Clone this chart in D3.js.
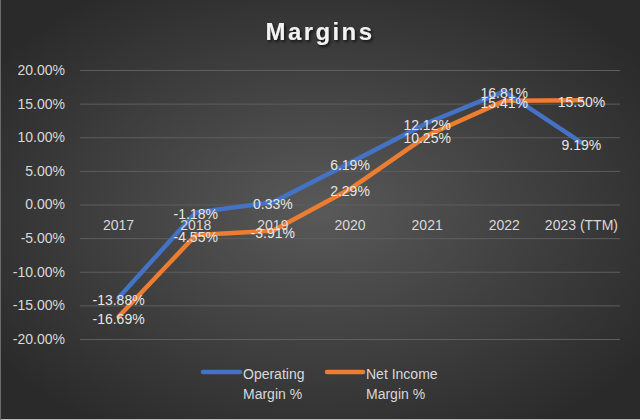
<!DOCTYPE html>
<html>
<head>
<meta charset="utf-8">
<script src="https://cdn.jsdelivr.net/npm/d3@7"></script>
<style>
  html, body { margin: 0; padding: 0; background: #333; }
  svg { display: block; }
  text { font-family: "Liberation Sans", Arial, sans-serif; }
</style>
</head>
<body>
<svg id="chart" width="640" height="420"></svg>
<script>
const categories = ["2017", "2018", "2019", "2020", "2021", "2022", "2023 (TTM)"];
const operatingMargin = [-13.88, -1.18, 0.33, 6.19, 12.12, 16.81, 9.19];
const netIncomeMargin = [-16.69, -4.55, -3.91, 2.29, 10.25, 15.41, 15.50];
const yTicks = [-20, -15, -10, -5, 0, 5, 10, 15, 20];
const seriesNames = ["Operating Margin %", "Net Income Margin %"];
const seriesColors = ["#4472C4", "#ED7D31"];

const W = 640, H = 420;
const svg = d3.select("#chart");
const defs = svg.append("defs");

const grad = defs.append("radialGradient").attr("id", "bg")
  .attr("cx", "50%").attr("cy", "50%").attr("r", "62%");
grad.append("stop").attr("offset", "0%").attr("stop-color", "#595959");
grad.append("stop").attr("offset", "100%").attr("stop-color", "#2a2a2a");

const shadow = defs.append("filter").attr("id", "shadow")
  .attr("x", "-20%").attr("y", "-40%").attr("width", "140%").attr("height", "180%");
shadow.append("feDropShadow").attr("dx", 1.5).attr("dy", 2).attr("stdDeviation", 1.5)
  .attr("flood-color", "#000").attr("flood-opacity", 0.7);

svg.append("rect").attr("width", W).attr("height", H).attr("fill", "url(#bg)");
svg.append("line").attr("x1", 0).attr("x2", W).attr("y1", H - 0.5).attr("y2", H - 0.5)
  .attr("stroke", "#bfbfbf").attr("stroke-width", 1);
svg.append("line").attr("x1", 0.5).attr("x2", 0.5).attr("y1", 0).attr("y2", H)
  .attr("stroke", "#6a6a6a").attr("stroke-width", 1);

// Title
svg.append("text").attr("x", 320).attr("y", 40).attr("text-anchor", "middle")
  .attr("font-size", 24).attr("font-weight", "bold").attr("letter-spacing", 2.4)
  .attr("fill", "#f2f2f2").attr("filter", "url(#shadow)").text("Margins");

const x = d3.scaleBand().domain(categories).range([80, 620]).padding(0);
const y = d3.scaleLinear().domain([-20, 20]).range([339, 70]);
const cx = c => x(c) + x.bandwidth() / 2;

// Gridlines
const grid = svg.append("g").attr("transform", "translate(80,0)")
  .call(d3.axisLeft(y).tickValues(yTicks).tickSize(-540).tickFormat(""));
grid.select(".domain").remove();
grid.selectAll("line").attr("stroke", "#5e5e5e").attr("stroke-width", 1);

// Y axis labels
const yAxis = svg.append("g").attr("transform", "translate(80,0)")
  .call(d3.axisLeft(y).tickValues(yTicks).tickSize(0).tickPadding(15)
    .tickFormat(d => d.toFixed(2) + "%"));
yAxis.select(".domain").remove();
yAxis.selectAll("text").attr("font-size", 14).attr("fill", "#d9d9d9")
  .attr("font-family", "Liberation Sans, Arial, sans-serif");

// Lines
const line = d3.line().x(d => cx(d.c)).y(d => y(d.v));
const seriesData = [operatingMargin, netIncomeMargin].map(vals =>
  vals.map((v, i) => ({ c: categories[i], v })));

// draw orange first, blue on top
[1, 0].forEach(si => {
  svg.append("path").datum(seriesData[si])
    .attr("d", line).attr("fill", "none")
    .attr("stroke", seriesColors[si]).attr("stroke-width", 4.5)
    .attr("stroke-linejoin", "round").attr("stroke-linecap", "round");
});

// Category axis at zero
const xAxis = svg.append("g").attr("transform", `translate(0,${y(0)})`)
  .call(d3.axisBottom(x).tickSize(0).tickPadding(16));
xAxis.select(".domain").remove();
xAxis.selectAll("text").attr("font-size", 14).attr("fill", "#d9d9d9")
  .attr("font-family", "Liberation Sans, Arial, sans-serif");

// Data labels
seriesData.forEach(sd => {
  svg.append("g").selectAll("text").data(sd).join("text")
    .attr("x", d => cx(d.c)).attr("y", d => y(d.v) + 2)
    .attr("text-anchor", "middle").attr("dominant-baseline", "central")
    .attr("font-size", 14).attr("fill", "#e6e6e6")
    .text(d => d.v.toFixed(2) + "%");
});

// Legend
const legend = [
  { x1: 203, x2: 240, tx: 243, lines: ["Operating", "Margin %"] },
  { x1: 327, x2: 363, tx: 366, lines: ["Net Income", "Margin %"] }
];
legend.forEach((l, i) => {
  svg.append("line").attr("x1", l.x1).attr("x2", l.x2).attr("y1", 372).attr("y2", 372)
    .attr("stroke", seriesColors[i]).attr("stroke-width", 4.5).attr("stroke-linecap", "round");
  const t = svg.append("text").attr("x", l.tx).attr("y", 379)
    .attr("font-size", 14).attr("fill", "#d9d9d9");
  t.append("tspan").attr("x", l.tx).attr("dy", 0).text(l.lines[0]);
  t.append("tspan").attr("x", l.tx).attr("dy", 20).text(l.lines[1]);
});
</script>
</body>
</html>
